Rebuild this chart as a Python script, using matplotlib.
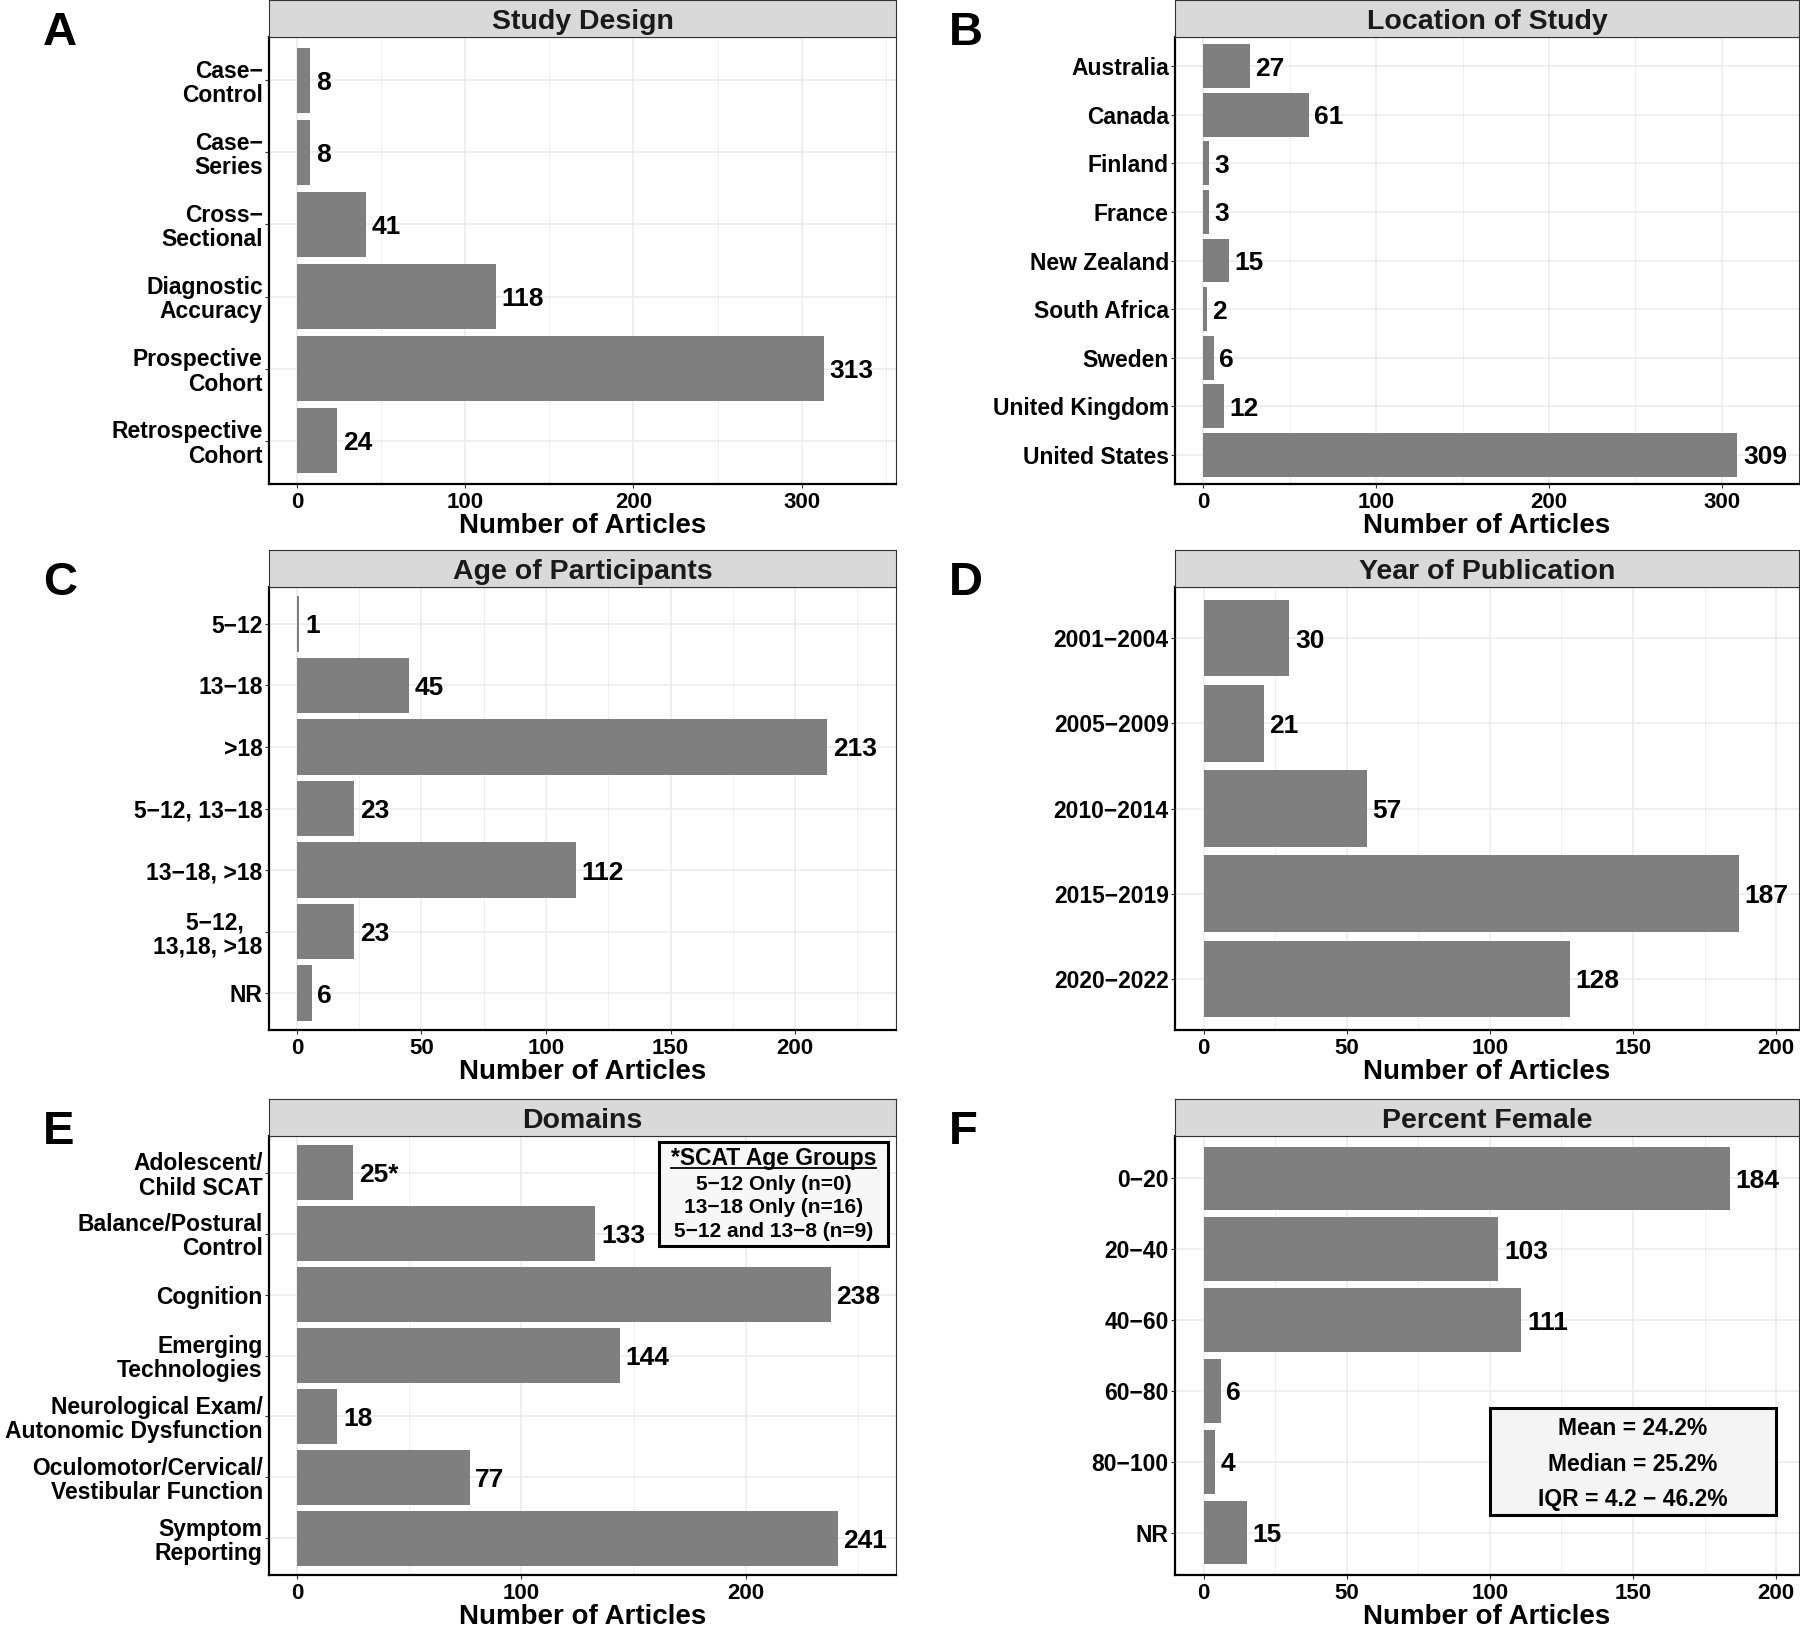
import matplotlib
matplotlib.use('Agg')
import matplotlib.pyplot as plt
from matplotlib.patches import Rectangle
from matplotlib.lines import Line2D

plt.rcParams['font.family'] = ['Liberation Sans', 'DejaVu Sans']
plt.rcParams['font.weight'] = 'bold'
plt.rcParams['axes.labelweight'] = 'bold'

# data
design_labels = ['Case\u2212\nControl', 'Case\u2212\nSeries', 'Cross\u2212\nSectional',
                 'Diagnostic\nAccuracy', 'Prospective\nCohort', 'Retrospective\nCohort']
design_counts = [8, 8, 41, 118, 313, 24]

location_labels = ['Australia', 'Canada', 'Finland', 'France', 'New Zealand',
                   'South Africa', 'Sweden', 'United Kingdom', 'United States']
location_counts = [27, 61, 3, 3, 15, 2, 6, 12, 309]

age_labels = ['5\u221212', '13\u221218', '>18', '5\u221212, 13\u221218', '13\u221218, >18',
              '5\u221212,   \n13,18, >18', 'NR']
age_counts = [1, 45, 213, 23, 112, 23, 6]

year_labels = ['2001\u22122004', '2005\u22122009', '2010\u22122014', '2015\u22122019', '2020\u22122022']
year_counts = [30, 21, 57, 187, 128]

domain_labels = ['Adolescent/\nChild SCAT', 'Balance/Postural\nControl', 'Cognition',
                 'Emerging\nTechnologies', 'Neurological Exam/\nAutonomic Dysfunction',
                 'Oculomotor/Cervical/\nVestibular Function', 'Symptom\nReporting']
domain_counts = [25, 133, 238, 144, 18, 77, 241]
domain_text = [str(v) + ('*' if i == 0 else '') for i, v in enumerate(domain_counts)]

female_labels = ['0\u221220', '20\u221240', '40\u221260', '60\u221280', '80\u2212100', 'NR']
female_counts = [184, 103, 111, 6, 4, 15]

scat_lines = ['5\u221212 Only (n=0)', '13\u221218 Only (n=16)', '5\u221212 and 13\u22128 (n=9)']
female_stats = ['Mean = 24.2%', 'Median = 25.2%', 'IQR = 4.2 \u2212 46.2%']

# layout in pixels
W, H = 1800, 1629
fig = plt.figure(figsize=(W / 100, H / 100), dpi=100)
cols = [(269, 896), (1175, 1799)]
row_tops = [0, 550, 1099]
row_bottoms = [484, 1030, 1575]
STRIP = 37


def panel(col, row, letter, title, labels, counts, xlim, major, minor, texts=None):
    l, r = cols[col]
    t = row_tops[row]
    b = row_bottoms[row]
    ax = fig.add_axes([l / W, 1 - b / H, (r - l) / W, (b - t - STRIP) / H])
    st = fig.add_axes([l / W, 1 - (t + STRIP) / H, (r - l) / W, STRIP / H])

    n = len(labels)
    y = list(range(n))
    ax.barh(y, counts, height=0.9, color='#7F7F7F', zorder=2)
    if texts is None:
        texts = [str(v) for v in counts]
    for yi, v, s in zip(y, counts, texts):
        ax.annotate(s, (v, yi), xytext=(4, 0), textcoords='offset points',
                    ha='left', va='center_baseline', fontsize=19, color='black', zorder=3)

    ax.set_xlim(*xlim)
    ax.set_ylim(n - 0.4, -0.6)
    ax.set_xticks(major)
    ax.set_xticks(minor, minor=True)
    ax.set_yticks(y)
    ax.set_yticklabels(labels, fontsize=16.5, linespacing=1.08)
    ax.tick_params(axis='x', labelsize=16, length=3, width=0.8, color='#333333', pad=3)
    ax.tick_params(axis='y', length=3, width=0.8, color='#333333', pad=1.5)
    ax.tick_params(which='minor', length=0)
    ax.grid(which='major', color='#EBEBEB', lw=1.1, zorder=0)
    ax.grid(which='minor', axis='x', color='#EBEBEB', lw=0.55, zorder=0)
    ax.set_axisbelow(True)
    ax.set_xlabel('Number of Articles', fontsize=20, fontweight='bold', labelpad=0)
    for s in ['left', 'bottom']:
        ax.spines[s].set_color('black')
        ax.spines[s].set_linewidth(1.6)
    for s in ['top', 'right']:
        ax.spines[s].set_color('#333333')
        ax.spines[s].set_linewidth(0.8)

    st.set_facecolor('#D9D9D9')
    st.set_xticks([])
    st.set_yticks([])
    for s in st.spines.values():
        s.set_color('#333333')
        s.set_linewidth(0.8)
    st.text(0.5, 0.22, title, ha='center', va='baseline', fontsize=20.5,
            color='#1A1A1A', transform=st.transAxes)

    lx = 43 if col == 0 else 949
    fig.text(lx / W, 1 - (t + 45) / H, letter, fontsize=34, ha='left', va='baseline')
    return ax


panel(0, 0, 'A', 'Study Design', design_labels, design_counts,
      (-16.6, 356), [0, 100, 200, 300], [50, 150, 250, 350])
panel(1, 0, 'B', 'Location of Study', location_labels, location_counts,
      (-16.4, 344.6), [0, 100, 200, 300], [50, 150, 250])
panel(0, 1, 'C', 'Age of Participants', age_labels, age_counts,
      (-11.2, 240.5), [0, 50, 100, 150, 200], [25, 75, 125, 175, 225])
panel(1, 1, 'D', 'Year of Publication', year_labels, year_counts,
      (-10, 208), [0, 50, 100, 150, 200], [25, 75, 125, 175])
axE = panel(0, 2, 'E', 'Domains', domain_labels, domain_counts,
            (-12.5, 267), [0, 100, 200], [50, 150, 250], texts=domain_text)
axF = panel(1, 2, 'F', 'Percent Female', female_labels, female_counts,
            (-10, 208), [0, 50, 100, 150, 200], [25, 75, 125, 175])

# SCAT age group box in E
axE.add_patch(Rectangle((161.4, -0.5), 102, 1.71, facecolor='#F7F7F7',
                        edgecolor='black', lw=2.2, zorder=4))
ttl = axE.text(212.5, -0.12, '*SCAT Age Groups', ha='center', va='baseline',
               fontsize=16.5, zorder=5)
for yy, s in zip([0.28, 0.67, 1.06], scat_lines):
    axE.text(212.5, yy, s, ha='center', va='baseline', fontsize=15, zorder=5)

# stats box in F
axF.add_patch(Rectangle((100, 3.24), 100, 1.51, facecolor='#F4F4F4',
                        edgecolor='black', lw=2.2, zorder=4))
for yy, s in zip([3.5, 4.0, 4.5], female_stats):
    axF.text(150, yy, s, ha='center', va='center_baseline', fontsize=16.5, zorder=5)

# underline the box title
fig.canvas.draw()
bb = ttl.get_window_extent()
base = axE.transData.transform((212.5, -0.12))[1] - 3
inv = fig.transFigure.inverted()
(x0, y0), (x1, _) = inv.transform([[bb.x0, base], [bb.x1, base]])
fig.add_artist(Line2D([x0, x1], [y0, y0], color='black', lw=1.3))

fig.savefig('out.png', dpi=100)
